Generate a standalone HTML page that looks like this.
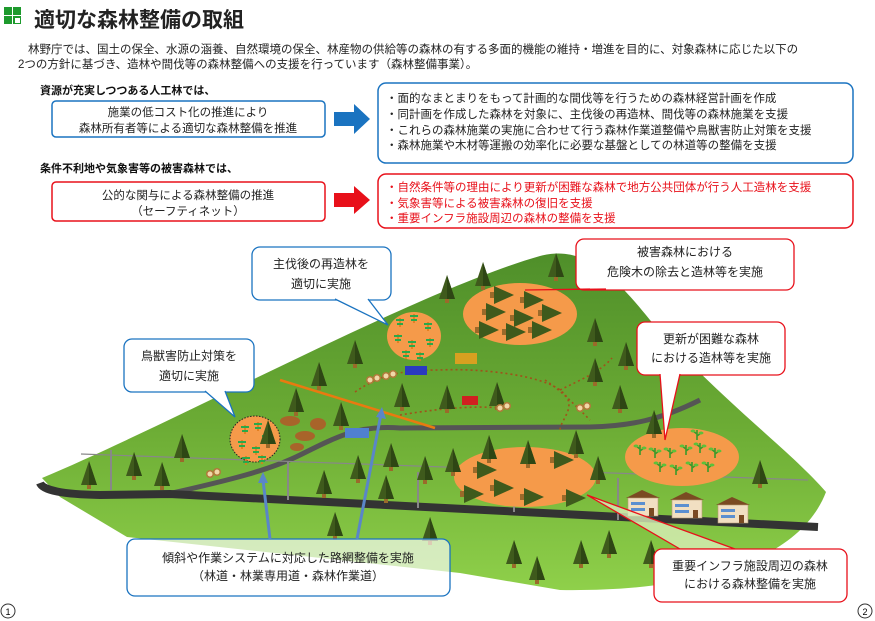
<!DOCTYPE html>
<html><head><meta charset="utf-8">
<style>
body{margin:0;width:875px;height:621px;background:#fff;overflow:hidden;font-family:"Liberation Sans","Noto Sans CJK JP",sans-serif;}
svg{position:absolute;left:0;top:0}
text{font-family:"Liberation Sans","Noto Sans CJK JP",sans-serif;}
</style></head><body>
<svg width="875" height="621" viewBox="0 0 875 621">
<defs>
<linearGradient id="hill" x1="0" y1="0" x2="0" y2="1">
<stop offset="0" stop-color="#4f8f2a"/><stop offset="0.5" stop-color="#6bab34"/><stop offset="1" stop-color="#8fd04a"/></linearGradient>
<g id="t"><rect x="-2" y="22" width="4" height="6" fill="#9a6a2a"/><polygon points="0,0 -8,24 8,24" fill="#3f5a1c"/><polygon points="0,0 0,24 8,24" fill="#2e4614"/></g>
<g id="ft"><rect x="-10" y="-3" width="5" height="6" fill="#9a6a2a"/><polygon points="-6,-9 -6,9 14,0" fill="#3f5a1c"/></g>
<g id="s"><rect x="-0.8" y="0" width="1.6" height="9" fill="#e07a1a"/><rect x="-4" y="1" width="8" height="2" fill="#2aa84a"/><rect x="-3" y="5" width="6" height="2" fill="#2aa84a"/></g>
<g id="sp"><path d="M0 10 V0 M0 4 L-4 1 M0 6 L4 3" stroke="#3a9a2a" stroke-width="1.6" fill="none"/><ellipse cx="-4" cy="1" rx="2.5" ry="1.5" fill="#5cc13a"/><ellipse cx="4" cy="3" rx="2.5" ry="1.5" fill="#5cc13a"/></g>
<g id="h"><polygon points="-2,8 14,0 32,8" fill="#7a4a22"/><rect x="0" y="8" width="30" height="18" fill="#f1dfc2" stroke="#b89c74" stroke-width="0.6"/><rect x="3" y="12" width="14" height="3" fill="#5b8fd0"/><rect x="3" y="18" width="14" height="3" fill="#5b8fd0"/><rect x="21" y="18" width="5" height="8" fill="#7a4a22"/></g>
<g id="log"><circle cx="0" cy="0" r="4" fill="#b07a3a"/><circle cx="7" cy="-2" r="4" fill="#b07a3a"/><circle cx="0" cy="0" r="2.5" fill="#f0d8a8"/><circle cx="7" cy="-2" r="2.5" fill="#f0d8a8"/></g>
</defs>

<!-- header -->
<rect x="4" y="7" width="8" height="8" fill="#1d9a2d"/><rect x="13" y="7" width="8" height="8" fill="#1d9a2d"/><rect x="4" y="16" width="8" height="8" fill="#1d9a2d"/><rect x="13" y="16" width="8" height="8" fill="#1d9a2d"/><rect x="15" y="18" width="5" height="5" fill="#fff"/>
<text x="34" y="27" font-size="21" font-weight="bold" fill="#222">適切な森林整備の取組</text>
<text x="28" y="53" font-size="11.5" fill="#222">林野庁では、国土の保全、水源の涵養、自然環境の保全、林産物の供給等の森林の有する多面的機能の維持・増進を目的に、対象森林に応じた以下の</text>
<text x="18" y="68" font-size="11.5" fill="#222">2つの方針に基づき、造林や間伐等の森林整備への支援を行っています（森林整備事業）。</text>

<text x="40" y="94" font-size="11" font-weight="bold" fill="#111">資源が充実しつつある人工林では、</text>
<rect x="52" y="101" width="273" height="36" rx="4" fill="#fff" stroke="#1a73c0" stroke-width="1.5"/>
<text x="188" y="116" font-size="11.5" text-anchor="middle" fill="#222">施業の低コスト化の推進により</text>
<text x="188" y="132" font-size="11.5" text-anchor="middle" fill="#222">森林所有者等による適切な森林整備を推進</text>
<polygon points="334,112 354,112 354,104 370,119 354,134 354,126 334,126" fill="#1a73c0"/>
<rect x="378" y="83" width="475" height="80" rx="8" fill="#fff" stroke="#1a73c0" stroke-width="1.5"/>
<g font-size="11.5" fill="#222"><text x="386" y="102">・面的なまとまりをもって計画的な間伐等を行うための森林経営計画を作成</text>
<text x="386" y="118">・同計画を作成した森林を対象に、主伐後の再造林、間伐等の森林施業を支援</text>
<text x="386" y="134">・これらの森林施業の実施に合わせて行う森林作業道整備や鳥獣害防止対策を支援</text>
<text x="386" y="149">・森林施業や木材等運搬の効率化に必要な基盤としての林道等の整備を支援</text></g>

<text x="40" y="172" font-size="11" font-weight="bold" fill="#111">条件不利地や気象害等の被害森林では、</text>
<rect x="52" y="182" width="273" height="39" rx="4" fill="#fff" stroke="#e8101a" stroke-width="1.5"/>
<text x="188" y="199" font-size="11.5" text-anchor="middle" fill="#222">公的な関与による森林整備の推進</text>
<text x="188" y="215" font-size="11.5" text-anchor="middle" fill="#222">（セーフティネット）</text>
<polygon points="334,193 354,193 354,186 370,200 354,214 354,207 334,207" fill="#e8101a"/>
<rect x="378" y="174" width="475" height="54" rx="8" fill="#fff" stroke="#e8101a" stroke-width="1.5"/>
<g font-size="11.5" fill="#e8101a"><text x="386" y="191">・自然条件等の理由により更新が困難な森林で地方公共団体が行う人工造林を支援</text>
<text x="386" y="207">・気象害等による被害森林の復旧を支援</text>
<text x="386" y="222">・重要インフラ施設周辺の森林の整備を支援</text></g>

<!-- hill -->
<path d="M42 478 C180 420 420 290 540 256 C580 245 610 270 650 320 C720 400 790 450 826 492 C800 560 700 592 560 590 L460 573 L127 537 L60 497 Z" fill="url(#hill)"/>

<!-- roads -->
<path d="M168 494 C230 480 270 470 300 455 C340 435 360 425 400 428 L590 427 C630 426 660 420 700 400" stroke="#555" stroke-width="5" fill="none"/>
<path d="M40 483 Q44 494 100 495 L170 494 L818 527" stroke="#333" stroke-width="8" fill="none"/>
<path d="M280 380 L435 428" stroke="#e97a10" stroke-width="2.5" fill="none"/>
<path d="M355 392 C380 375 400 370 440 370 C480 368 540 375 560 390 C580 405 560 420 560 430 M400 415 C430 410 470 405 500 408 M560 390 C580 380 600 372 612 358 M545 380 C560 390 570 400 590 420" stroke="#a0521a" stroke-width="1.6" stroke-dasharray="2,3" fill="none"/>
<path d="M81 454 L808 480" stroke="#888" stroke-width="1.2"/>
<g stroke="#888" stroke-width="2"><line x1="111" y1="450" x2="111" y2="490"/><line x1="288" y1="462" x2="288" y2="500"/><line x1="418" y1="472" x2="418" y2="508"/><line x1="514" y1="476" x2="514" y2="512"/><line x1="618" y1="478" x2="618" y2="520"/></g>

<!-- orange patches -->
<ellipse cx="520" cy="314" rx="57" ry="31" fill="#f59a4a"/>
<ellipse cx="414" cy="336" rx="27" ry="24" fill="#f59a4a"/>
<ellipse cx="255" cy="439" rx="25" ry="23" fill="#f59a4a" stroke="#222" stroke-width="1" stroke-dasharray="1.5,1.5"/>
<ellipse cx="525" cy="477" rx="71" ry="30" fill="#f59a4a"/>
<ellipse cx="682" cy="457" rx="57" ry="29" fill="#f59a4a"/>

<g><use href="#ft" x="500" y="295"/><use href="#ft" x="530" y="300"/><use href="#ft" x="492" y="312"/><use href="#ft" x="520" y="318"/><use href="#ft" x="548" y="313"/><use href="#ft" x="485" y="330"/><use href="#ft" x="512" y="332"/><use href="#ft" x="538" y="330"/>
<use href="#ft" x="483" y="470"/><use href="#ft" x="560" y="460"/><use href="#ft" x="500" y="488"/><use href="#ft" x="530" y="497"/><use href="#ft" x="572" y="498"/><use href="#ft" x="470" y="494"/></g>
<g><use href="#s" x="400" y="318"/><use href="#s" x="414" y="314"/><use href="#s" x="428" y="322"/><use href="#s" x="398" y="334"/><use href="#s" x="412" y="340"/><use href="#s" x="430" y="338"/><use href="#s" x="406" y="350"/><use href="#s" x="420" y="352"/>
<use href="#s" x="245" y="425"/><use href="#s" x="258" y="422"/><use href="#s" x="266" y="434"/><use href="#s" x="242" y="440"/><use href="#s" x="256" y="446"/><use href="#s" x="246" y="456"/><use href="#s" x="262" y="455"/></g>
<g><use href="#sp" x="640" y="445"/><use href="#sp" x="655" y="448"/><use href="#sp" x="670" y="448"/><use href="#sp" x="686" y="445"/><use href="#sp" x="700" y="443"/><use href="#sp" x="715" y="448"/><use href="#sp" x="660" y="462"/><use href="#sp" x="676" y="465"/><use href="#sp" x="692" y="462"/><use href="#sp" x="708" y="462"/><use href="#sp" x="697" y="430"/></g>

<!-- trees -->
<g><use href="#t" x="556" y="253"/><use href="#t" x="483" y="262"/><use href="#t" x="447" y="275"/><use href="#t" x="595" y="318"/><use href="#t" x="355" y="340"/><use href="#t" x="319" y="362"/><use href="#t" x="296" y="388"/><use href="#t" x="341" y="402"/><use href="#t" x="402" y="383"/><use href="#t" x="447" y="385"/><use href="#t" x="497" y="382"/><use href="#t" x="595" y="358"/><use href="#t" x="626" y="342"/><use href="#t" x="620" y="385"/><use href="#t" x="654" y="410"/><use href="#t" x="182" y="434"/><use href="#t" x="134" y="452"/><use href="#t" x="89" y="461"/><use href="#t" x="162" y="462"/><use href="#t" x="358" y="455"/><use href="#t" x="391" y="443"/><use href="#t" x="324" y="470"/><use href="#t" x="386" y="475"/><use href="#t" x="425" y="456"/><use href="#t" x="453" y="448"/><use href="#t" x="489" y="435"/><use href="#t" x="528" y="440"/><use href="#t" x="576" y="430"/><use href="#t" x="598" y="456"/><use href="#t" x="760" y="460"/><use href="#t" x="335" y="512"/><use href="#t" x="430" y="517"/><use href="#t" x="514" y="540"/><use href="#t" x="537" y="556"/><use href="#t" x="581" y="540"/><use href="#t" x="609" y="530"/><use href="#t" x="651" y="540"/><use href="#t" x="268" y="420"/></g>
<g><use href="#h" x="628" y="490"/><use href="#h" x="672" y="492"/><use href="#h" x="718" y="497"/></g>
<g><use href="#log" x="370" y="380"/><use href="#log" x="386" y="376"/><use href="#log" x="210" y="474"/><use href="#log" x="500" y="408"/><use href="#log" x="580" y="408"/></g>
<!-- deer -->
<g fill="#a8642a"><ellipse cx="290" cy="421" rx="10" ry="5"/><ellipse cx="318" cy="424" rx="8" ry="6"/><ellipse cx="305" cy="436" rx="10" ry="5"/><ellipse cx="297" cy="447" rx="7" ry="4"/></g>
<!-- vehicles -->
<rect x="405" y="366" width="22" height="9" fill="#2a3ac0"/><rect x="455" y="353" width="22" height="11" fill="#d8a020"/><rect x="462" y="396" width="16" height="9" fill="#d02020"/><rect x="345" y="428" width="24" height="10" fill="#5080d0"/>

<!-- callouts -->
<g stroke="#1a73c0" stroke-width="1.3" fill="#fff">
<rect x="252" y="247" width="139" height="53" rx="8"/>
<polyline points="335,299 388,325 368,299" fill="#fff"/>
<rect x="124" y="339" width="130" height="53" rx="8"/>
<polyline points="205,391 235,417 225,391" fill="#fff"/>
<rect x="127" y="539" width="323" height="57" rx="8" fill="#fff" fill-opacity="0.65"/>
</g>
<g stroke="#5a86c8" stroke-width="3" fill="none"><line x1="270" y1="539" x2="263" y2="480"/><line x1="357" y1="539" x2="381" y2="414"/></g>
<polygon points="263,472 258,483 268,483" fill="#5a86c8"/><polygon points="382,407 376,417 386,419" fill="#5a86c8"/>
<g stroke="#e8101a" stroke-width="1.3" fill="#fff">
<rect x="576" y="239" width="218" height="51" rx="8"/>
<polyline points="590,289 525,290 606,289"/>
<rect x="637" y="322" width="148" height="53" rx="8"/>
<polyline points="660,374 665,440 680,374"/>
<polygon points="587,495 680,549 735,549" fill="#d8eeb8" fill-opacity="0.8"/>
<rect x="654" y="549" width="193" height="53" rx="8"/>
</g>
<g font-size="12" fill="#222" text-anchor="middle">
<text x="321" y="268">主伐後の再造林を</text><text x="321" y="288">適切に実施</text>
<text x="189" y="360">鳥獣害防止対策を</text><text x="189" y="380">適切に実施</text>
<text x="288" y="562">傾斜や作業システムに対応した路網整備を実施</text><text x="288" y="580">（林道・林業専用道・森林作業道）</text>
<text x="685" y="256">被害森林における</text><text x="685" y="276">危険木の除去と造林等を実施</text>
<text x="711" y="343">更新が困難な森林</text><text x="711" y="362">における造林等を実施</text>
<text x="750" y="570">重要インフラ施設周辺の森林</text><text x="750" y="588">における森林整備を実施</text>
</g>
<circle cx="8" cy="611" r="7" fill="#fff" stroke="#333"/><text x="8" y="615" font-size="9" text-anchor="middle">1</text>
<circle cx="865" cy="611" r="7" fill="#fff" stroke="#333"/><text x="865" y="615" font-size="9" text-anchor="middle">2</text>
</svg>
</body></html>
